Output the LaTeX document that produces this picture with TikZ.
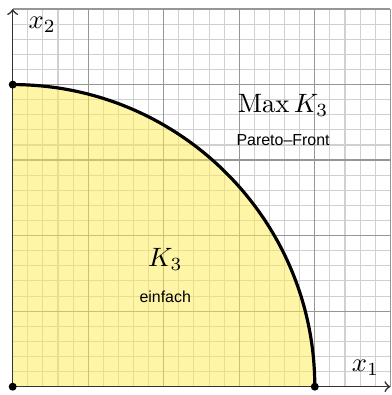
\documentclass[tikz,border=0pt]{standalone}
\usepackage{fontspec}
\setsansfont{Liberation Sans}
\usepackage{tikz}
\usetikzlibrary{positioning}
\definecolor{gelb}{RGB}{255,236,80}
\definecolor{feingrau}{RGB}{208,208,208}
\definecolor{grobgrau}{RGB}{150,150,150}

\begin{document}
\begin{tikzpicture}[x=1cm, y=1cm, font=\normalsize,
  klein/.style={font=\sffamily\fontsize{6}{7}\selectfont, inner sep=1pt},
  achse/.style={black!80, line width=0.6pt, ->},
  punkt/.style={circle, fill=black, inner sep=0pt, minimum size=3pt}]
\useasboundingbox (-0.168,-0.11) rectangle (5.01,5.12);
% Gitter
\draw[feingrau, line width=0.4pt, step=0.2] (0,0) grid (5,5);
\draw[grobgrau, line width=0.5pt, step=1] (0,0) grid (5,5);
% Menge K_3
\coordinate (O) at (0,0);
\coordinate (A) at (4,0);
\coordinate (B) at (0,4);
\fill[gelb, fill opacity=0.5] (O) -- (A) arc[start angle=0, end angle=90, radius=4] -- cycle;
\draw[line width=1.2pt] (A) arc[start angle=0, end angle=90, radius=4];
% Achsen
\coordinate (X1) at (5,0);
\coordinate (X2) at (0,5);
\draw[achse] (O) -- (X1);
\draw[achse] (O) -- (X2);
\node[punkt] (o) at (O) {};
\node[punkt] (a) at (A) {};
\node[punkt] (b) at (B) {};
\node (x1) at (4.67,0.25) {$x_1$};
\node (x2) at (0.39,4.79) {$x_2$};
% Beschriftung
\node (max) at (3.58,3.72) {$\mathrm{Max}\,K_3$};
\node[klein] (front) at (3.58,3.26) {Pareto--Front};
\node (k3) at (2.02,1.68) {$K_3$};
\node[klein] (einfach) at (2.02,1.19) {einfach};
\end{tikzpicture}
\end{document}
